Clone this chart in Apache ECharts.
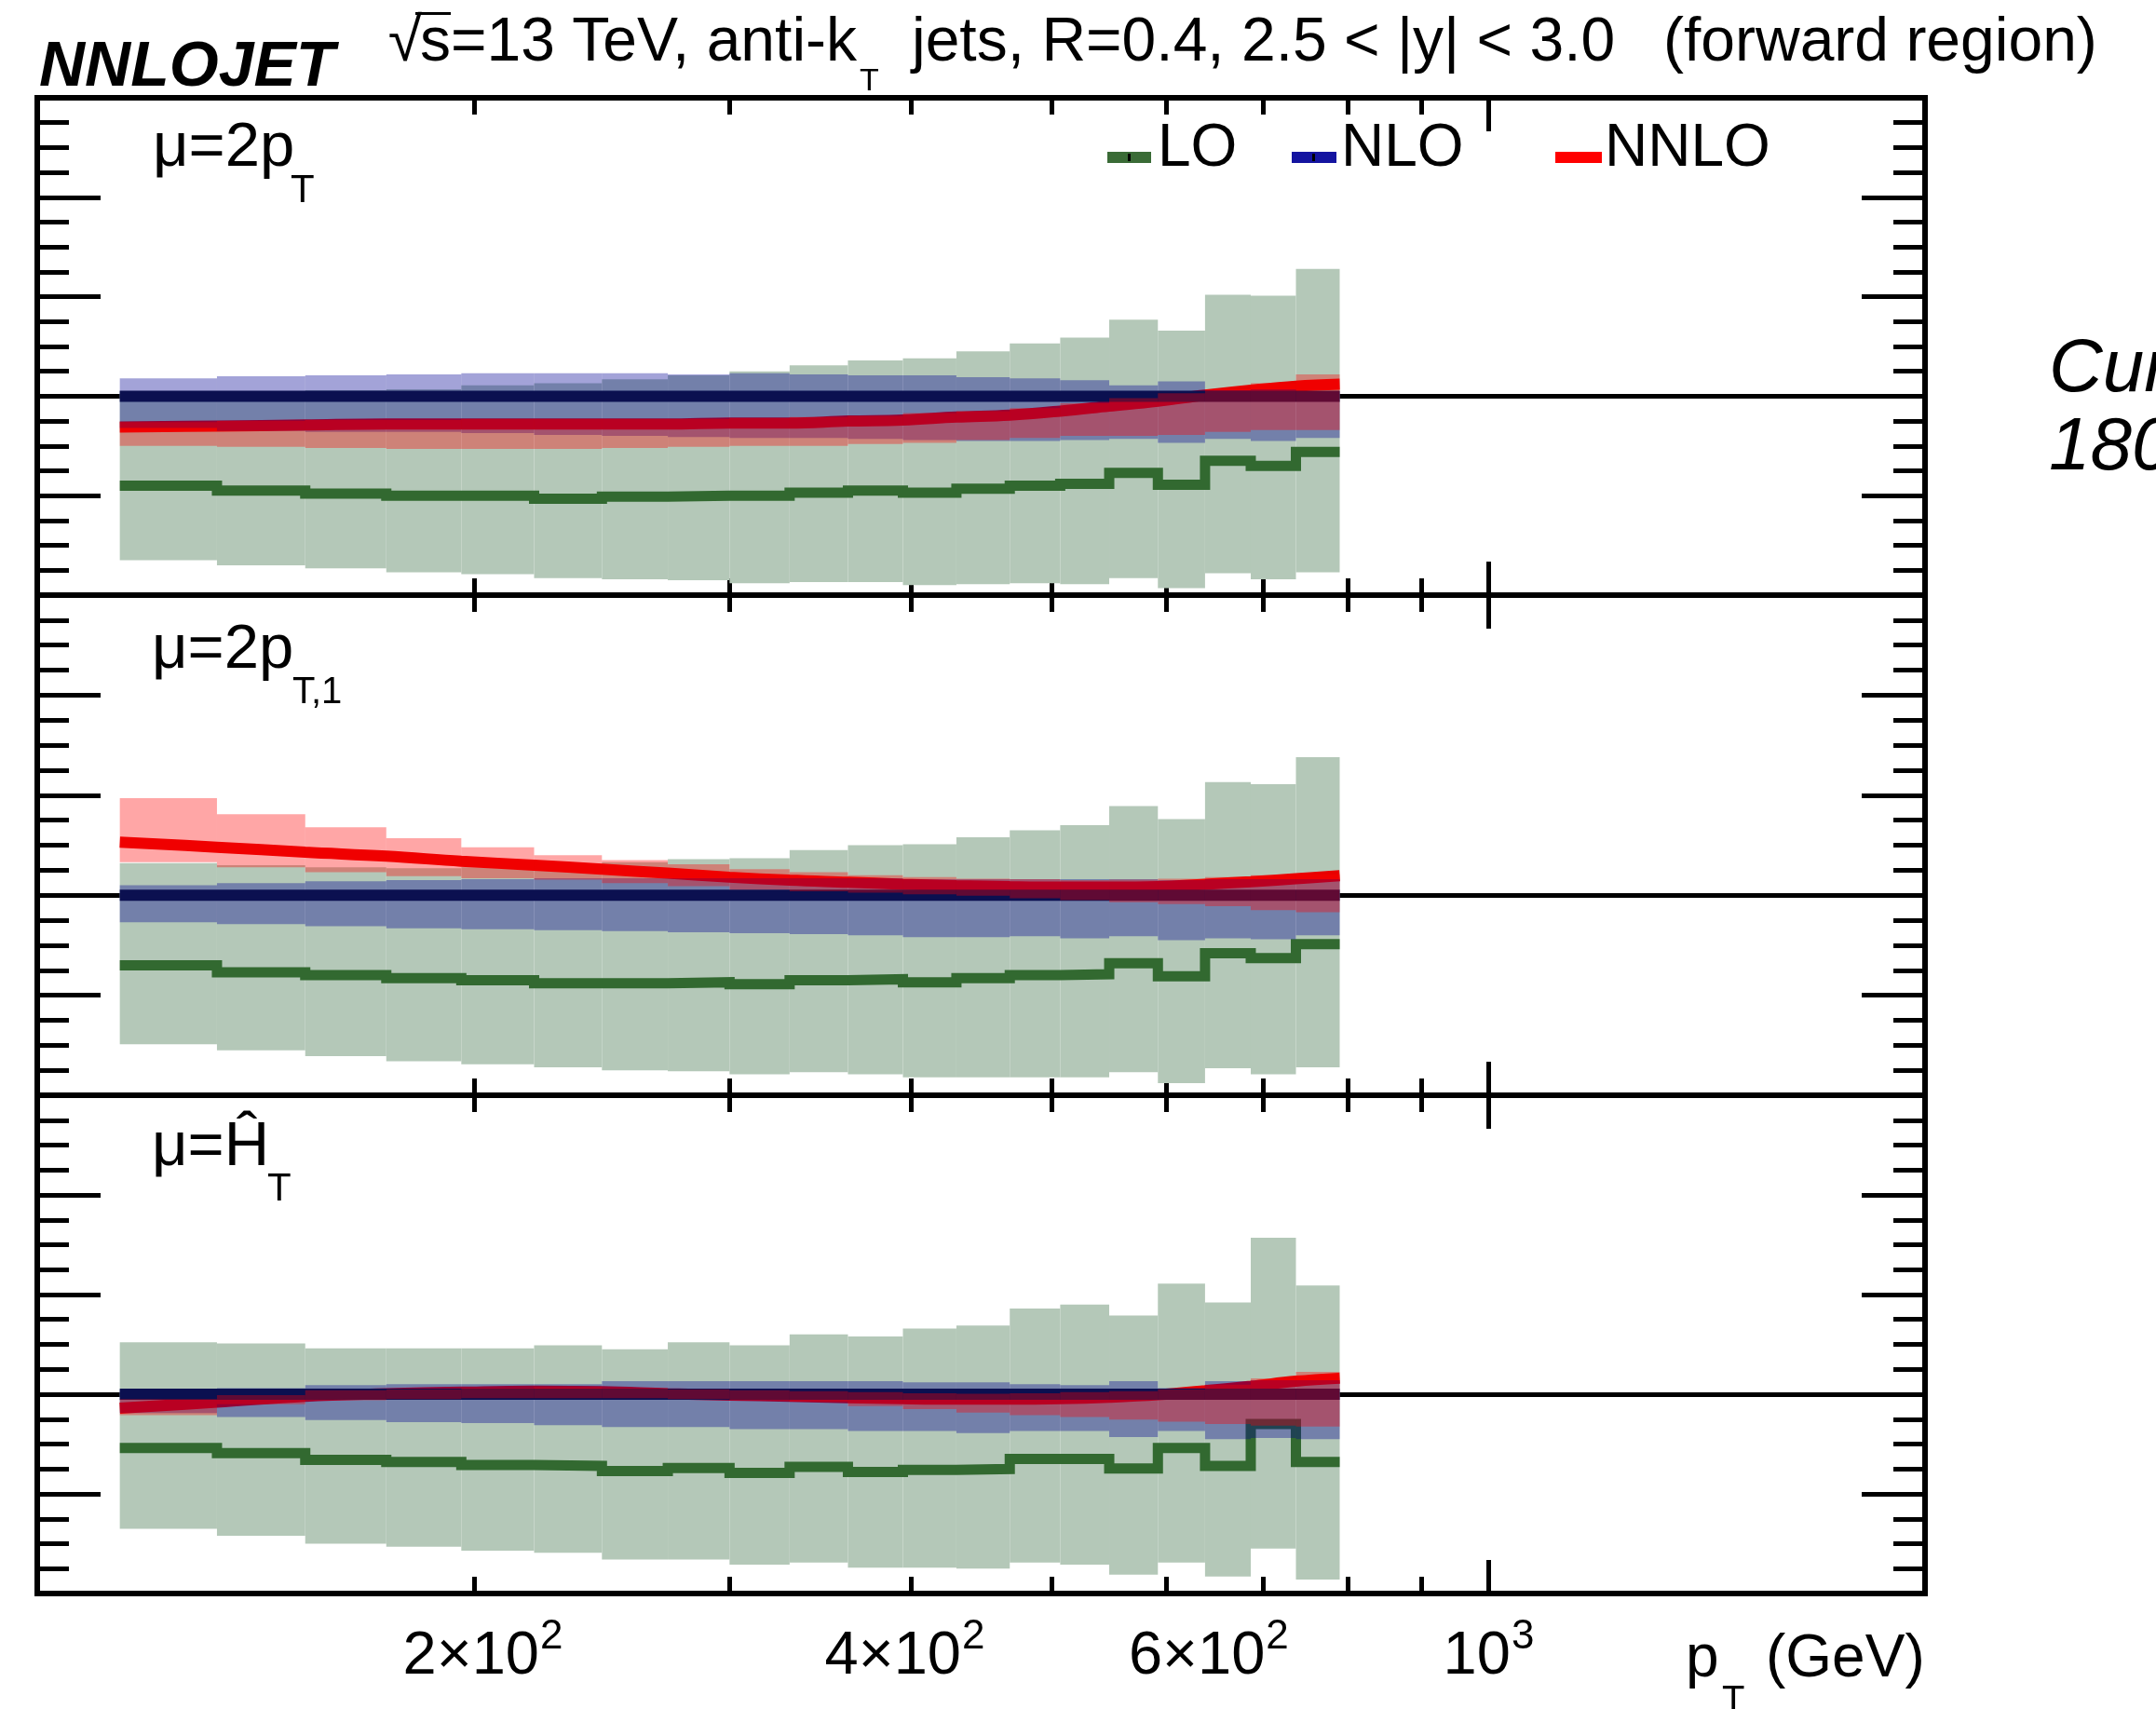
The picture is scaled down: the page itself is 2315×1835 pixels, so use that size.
<!DOCTYPE html>
<html>
<head>
<meta charset="utf-8">
<title>NNLOJET inclusive jets, forward region</title>
<script src="https://cdn.jsdelivr.net/npm/echarts@6.0.0/dist/echarts.min.js"></script>
<style>
  html, body { margin: 0; padding: 0; background: #ffffff; }
  #chart { width: 2315px; height: 1835px; }
</style>
</head>
<body>
<div id="chart"></div>
<script>
// ------------------------------------------------------------------
// Jet pT bins (GeV) and ratios to the NLO central prediction
// ------------------------------------------------------------------
const binEdges = [114, 133, 153, 174, 196, 220, 245, 272, 300, 330, 362,
                  395, 430, 468, 507, 548, 592, 638, 686, 737, 790];

const nloCentral = [1, 1, 1, 1, 1, 1, 1, 1, 1, 1, 1, 1, 1, 1, 1, 1, 1, 1, 1, 1];

// scale choice mu = 2 pT
const lo_2pT       = [0.910, 0.905, 0.902, 0.900, 0.900, 0.897, 0.899, 0.900, 0.900, 0.903,
                      0.905, 0.903, 0.907, 0.910, 0.912, 0.923, 0.911, 0.935, 0.930, 0.944];
const loUp_2pT     = [1.005, 1.005, 1.006, 1.007, 1.011, 1.013, 1.017, 1.021, 1.025, 1.031,
                      1.036, 1.038, 1.045, 1.053, 1.059, 1.077, 1.066, 1.102, 1.101, 1.128];
const loDown_2pT   = [0.835, 0.830, 0.827, 0.823, 0.821, 0.817, 0.816, 0.815, 0.812, 0.813,
                      0.813, 0.810, 0.811, 0.812, 0.811, 0.817, 0.807, 0.822, 0.816, 0.823];
const nloUp_2pT    = [1.018, 1.020, 1.021, 1.022, 1.023, 1.023, 1.023, 1.022, 1.023, 1.022,
                      1.021, 1.021, 1.019, 1.018, 1.016, 1.011, 1.015, 1.006, 1.007, 1.005];
const nloDown_2pT  = [0.968, 0.965, 0.964, 0.964, 0.963, 0.961, 0.960, 0.959, 0.958, 0.958,
                      0.957, 0.956, 0.955, 0.955, 0.956, 0.957, 0.953, 0.957, 0.955, 0.958];
const nnlo_2pT     = [0.969, 0.970, 0.971, 0.972, 0.972, 0.972, 0.972, 0.972, 0.973, 0.973, 0.975,
                      0.976, 0.979, 0.981, 0.985, 0.990, 0.995, 1.001, 1.006, 1.010, 1.012];
const nnloUp_2pT   = [0.974, 0.975, 0.976, 0.976, 0.977, 0.977, 0.977, 0.977, 0.978, 0.979,
                      0.980, 0.983, 0.985, 0.988, 0.993, 0.998, 1.003, 1.007, 1.013, 1.022];
const nnloDown_2pT = [0.950, 0.949, 0.948, 0.947, 0.947, 0.947, 0.948, 0.949, 0.950, 0.950,
                      0.952, 0.953, 0.956, 0.958, 0.960, 0.960, 0.961, 0.964, 0.966, 0.966];

// scale choice mu = 2 pT,1
const lo_2pT1       = [0.930, 0.923, 0.920, 0.917, 0.915, 0.912, 0.912, 0.913, 0.911, 0.915,
                       0.916, 0.913, 0.917, 0.920, 0.921, 0.932, 0.919, 0.942, 0.937, 0.951];
const loUp_2pT1     = [1.032, 1.030, 1.028, 1.027, 1.028, 1.030, 1.033, 1.036, 1.037, 1.045,
                       1.050, 1.051, 1.058, 1.065, 1.070, 1.089, 1.076, 1.113, 1.111, 1.138];
const loDown_2pT1   = [0.851, 0.845, 0.839, 0.834, 0.831, 0.828, 0.825, 0.824, 0.821, 0.823,
                       0.821, 0.818, 0.818, 0.818, 0.818, 0.823, 0.812, 0.827, 0.821, 0.828];
const nloUp_2pT1    = [1.010, 1.012, 1.014, 1.015, 1.016, 1.017, 1.017, 1.017, 1.017, 1.017,
                       1.017, 1.016, 1.016, 1.016, 1.016, 1.016, 1.015, 1.016, 1.016, 1.016];
const nloDown_2pT1  = [0.973, 0.971, 0.969, 0.967, 0.966, 0.965, 0.964, 0.963, 0.962, 0.961,
                       0.960, 0.958, 0.958, 0.959, 0.957, 0.959, 0.955, 0.957, 0.956, 0.960];
const nnlo_2pT1     = [1.053, 1.048, 1.043, 1.039, 1.034, 1.030, 1.026, 1.022, 1.018, 1.015, 1.013,
                       1.011, 1.0095, 1.0085, 1.008, 1.008, 1.0085, 1.011, 1.0135, 1.0165, 1.0195];
const nnloUp_2pT1   = [1.097, 1.081, 1.068, 1.057, 1.048, 1.040, 1.035, 1.031, 1.026, 1.023,
                       1.020, 1.018, 1.0165, 1.016, 1.015, 1.0155, 1.0165, 1.018, 1.020, 1.021];
const nnloDown_2pT1 = [1.033, 1.028, 1.023, 1.019, 1.017, 1.0155, 1.012, 1.009, 1.0055, 1.004,
                       1.0025, 1.001, 0.9995, 0.997, 0.995, 0.993, 0.991, 0.989, 0.985, 0.983];

// scale choice mu = H_T
const lo_HT       = [0.946, 0.941, 0.934, 0.932, 0.929, 0.928, 0.923, 0.926, 0.921, 0.927,
                     0.922, 0.924, 0.925, 0.935, 0.935, 0.9255, 0.946, 0.928, 0.970, 0.932];
const loUp_HT     = [1.052, 1.051, 1.046, 1.046, 1.046, 1.049, 1.045, 1.052, 1.049, 1.060,
                     1.058, 1.066, 1.069, 1.086, 1.090, 1.079, 1.111, 1.092, 1.157, 1.109];
const loDown_HT   = [0.865, 0.858, 0.850, 0.847, 0.843, 0.841, 0.834, 0.834, 0.829, 0.831,
                     0.826, 0.826, 0.825, 0.831, 0.829, 0.819, 0.831, 0.817, 0.845, 0.814];
const nloUp_HT    = [1.004, 1.006, 1.009, 1.010, 1.010, 1.010, 1.013, 1.013, 1.013, 1.013,
                     1.013, 1.012, 1.012, 1.010, 1.009, 1.013, 1.006, 1.013, 1.014, 1.014];
const nloDown_HT  = [0.981, 0.977, 0.974, 0.972, 0.971, 0.969, 0.967, 0.967, 0.965, 0.965,
                     0.963, 0.963, 0.961, 0.963, 0.963, 0.957, 0.963, 0.955, 0.956, 0.955];
const nnlo_HT     = [0.986, 0.992, 0.998, 1.0005, 1.002, 1.003, 1.0025, 1.0005, 0.999, 0.998, 0.9965,
                     0.9955, 0.995, 0.995, 0.9955, 0.997, 0.9995, 1.0035, 1.008, 1.013, 1.016];
const nnloUp_HT   = [0.995, 0.999, 1.004, 1.005, 1.006, 1.007, 1.006, 1.005, 1.004, 1.003,
                     1.002, 1.001, 1.0005, 1.001, 1.002, 1.003, 1.005, 1.0095, 1.016, 1.0225];
const nnloDown_HT = [0.979, 0.990, 0.994, 0.995, 0.996, 0.996, 0.996, 0.995, 0.994, 0.9925,
                     0.988, 0.985, 0.9815, 0.979, 0.977, 0.9745, 0.9725, 0.970, 0.9685, 0.9675];

// axis ticks and labels
const xMinorTicks = [200, 300, 400, 500, 600, 700, 800, 900];
const xMajorTicks = [1000];
const xTickLabels = [
  { value: 200,  mantissa: '2×10', exponent: '2' },
  { value: 400,  mantissa: '4×10', exponent: '2' },
  { value: 600,  mantissa: '6×10', exponent: '2' },
  { value: 1000, mantissa: '10',   exponent: '3' }
];

// ------------------------------------------------------------------
// Layout and style
// ------------------------------------------------------------------
const W = 2315, H = 1835;
const X_MIN = 100, X_MAX = 2000;
const Y_MIN = 0.8, Y_MAX = 1.3, Y_STEP = 0.1;
const PLOT_LEFT = 40, PLOT_RIGHT = 248;
const GRID_BOXES = [
  { top: 105,  height: 534 },
  { top: 639,  height: 537 },
  { top: 1176, height: 535 }
];
const FONT = '"Liberation Sans", Arial, Helvetica, sans-serif';
const COLORS = {
  loBand: '#b4c8b8',
  loLine: '#326930',
  nloBand: 'rgba(0, 0, 147, 0.36)',
  nloLine: '#0b1050',
  nnloBand: 'rgba(255, 0, 0, 0.35)',
  nnloLine: '#e80000'
};
const LINE_WIDTH = { lo: 11, nlo: 12, nnlo: 12 };
const labelNudge = { 200: 9, 400: -7, 600: 45, 1000: 0 };

const panels = [
  { lo: lo_2pT, loUp: loUp_2pT, loDown: loDown_2pT, nloUp: nloUp_2pT, nloDown: nloDown_2pT,
    nnlo: nnlo_2pT, nnloUp: nnloUp_2pT, nnloDown: nnloDown_2pT },
  { lo: lo_2pT1, loUp: loUp_2pT1, loDown: loDown_2pT1, nloUp: nloUp_2pT1, nloDown: nloDown_2pT1,
    nnlo: nnlo_2pT1, nnloUp: nnloUp_2pT1, nnloDown: nnloDown_2pT1 },
  { lo: lo_HT, loUp: loUp_HT, loDown: loDown_HT, nloUp: nloUp_HT, nloDown: nloDown_HT,
    nnlo: nnlo_HT, nnloUp: nnloUp_HT, nnloDown: nnloDown_HT }
];

// ------------------------------------------------------------------
// Series builders
// ------------------------------------------------------------------
function bandSeries(g, name, lower, upper, fill, z) {
  return {
    type: 'custom', name, xAxisIndex: 4 * g, yAxisIndex: 2 * g, z, silent: true, clip: true,
    encode: { x: [0, 1], y: [2, 3] },
    data: lower.map((lo, k) => [binEdges[k], binEdges[k + 1], lo, upper[k]]),
    renderItem(params, api) {
      const a = api.coord([api.value(0), api.value(3)]);
      const b = api.coord([api.value(1), api.value(2)]);
      return {
        type: 'rect',
        shape: { x: a[0], y: a[1], width: b[0] - a[0], height: b[1] - a[1] },
        style: { fill }
      };
    }
  };
}

function stepSeries(g, name, values, color, width, z) {
  // histogram outline: each bin value held until the next edge
  const pts = binEdges.map((e, k) => [e, values[Math.min(k, values.length - 1)]]);
  return {
    type: 'line', name, xAxisIndex: 4 * g, yAxisIndex: 2 * g, z, silent: true,
    step: 'end', data: pts, symbol: 'none', showSymbol: false,
    lineStyle: { color, width, cap: 'butt', join: 'miter' }
  };
}

function curveSeries(g, name, values, color, width, z) {
  return {
    type: 'line', name, xAxisIndex: 4 * g, yAxisIndex: 2 * g, z, silent: true,
    smooth: 0.4, data: binEdges.map((e, k) => [e, values[k]]),
    symbol: 'none', showSymbol: false,
    lineStyle: { color, width, cap: 'butt' }
  };
}

function unityLine(g) {
  return {
    type: 'line', name: 'unity', xAxisIndex: 4 * g, yAxisIndex: 2 * g, z: 1, silent: true,
    data: [], symbol: 'none',
    markLine: {
      z: 1, silent: true, symbol: ['none', 'none'], label: { show: false },
      lineStyle: { color: '#000', width: 5, type: 'solid' },
      emphasis: { disabled: true },
      data: [{ yAxis: 1 }]
    }
  };
}

// ------------------------------------------------------------------
// Grids and axes
// ------------------------------------------------------------------
const grids = [], xAxes = [], yAxes = [], series = [];

GRID_BOXES.forEach((box, g) => {
  grids.push({
    left: PLOT_LEFT, right: PLOT_RIGHT, top: box.top, height: box.height,
    show: true, borderColor: '#000', borderWidth: 6, backgroundColor: 'transparent',
    containLabel: false, outerBoundsMode: 'none'
  });
  [['bottom', xMinorTicks, 18], ['bottom', xMajorTicks, 36],
   ['top', xMinorTicks, 18], ['top', xMajorTicks, 36]].forEach(([pos, vals, len]) => {
    xAxes.push({
      type: 'log', logBase: 10, gridIndex: g, position: pos, min: X_MIN, max: X_MAX,
      axisLine: { show: false }, splitLine: { show: false }, axisLabel: { show: false },
      minorTick: { show: false }, minorSplitLine: { show: false },
      axisTick: { show: true, inside: true, length: len, customValues: vals,
                  lineStyle: { color: '#000', width: 5 } }
    });
  });
  ['left', 'right'].forEach(pos => {
    yAxes.push({
      type: 'value', gridIndex: g, position: pos, min: Y_MIN, max: Y_MAX, interval: Y_STEP,
      axisLine: { show: false }, splitLine: { show: false }, axisLabel: { show: false },
      axisTick: { show: true, inside: true, length: 68, lineStyle: { color: '#000', width: 5 } },
      minorTick: { show: true, splitNumber: 4, length: 34, lineStyle: { color: '#000', width: 5 } },
      minorSplitLine: { show: false }
    });
  });

  const p = panels[g];
  series.push(unityLine(g));
  series.push(bandSeries(g, 'LO', p.loDown, p.loUp, COLORS.loBand, 2));
  series.push(stepSeries(g, 'LO', p.lo, COLORS.loLine, LINE_WIDTH.lo, 3));
  series.push(curveSeries(g, 'NNLO', p.nnlo, COLORS.nnloLine, LINE_WIDTH.nnlo, 4));
  series.push(bandSeries(g, 'NLO', p.nloDown, p.nloUp, COLORS.nloBand, 5));
  series.push(stepSeries(g, 'NLO', nloCentral, COLORS.nloLine, LINE_WIDTH.nlo, 6));
  series.push(bandSeries(g, 'NNLO', p.nnloDown, p.nnloUp, COLORS.nnloBand, 7));
});

const chart = echarts.init(document.getElementById('chart'), null,
  { renderer: 'canvas', width: W, height: H, devicePixelRatio: 1 });

chart.setOption({
  animation: false,
  backgroundColor: '#ffffff',
  textStyle: { fontFamily: FONT },
  tooltip: { show: false },
  grid: grids,
  xAxis: xAxes,
  yAxis: yAxes,
  series
});

// ------------------------------------------------------------------
// Text: title, legend, panel labels, axis labels
// ------------------------------------------------------------------
const measureCtx = document.createElement('canvas').getContext('2d');
function measure(str, size, style, weight) {
  measureCtx.font = `${style || 'normal'} ${weight || 'normal'} ${size}px ${FONT}`;
  return measureCtx.measureText(str).width;
}
// place text by its alphabetic baseline
function text(str, x, baseline, size, opts) {
  opts = opts || {};
  return {
    type: 'text', x, y: baseline - 0.3466 * size, z: 100, silent: true,
    style: {
      text: str, fill: '#000', fontSize: size, fontFamily: FONT,
      fontStyle: opts.style || 'normal', fontWeight: opts.weight || 'normal',
      align: opts.align || 'left', verticalAlign: 'middle'
    }
  };
}
function box(x, y, w, h, fill) {
  return { type: 'rect', z: 100, silent: true, shape: { x, y, width: w, height: h }, style: { fill } };
}

const el = [];

// header
el.push(text('NNLOJET', 42, 97, 68, { style: 'italic', weight: 'bold' }));
const T_SIZE = 66, T_BASE = 70;
el.push(text('√', 453, T_BASE, T_SIZE, { align: 'right' }));
el.push(box(446, 13, 38, 3, '#000'));
const seg1 = 's=13 TeV, anti-k';
el.push(text(seg1, 451, T_BASE, T_SIZE));
el.push(text('T', 451 + measure(seg1, T_SIZE) + 3, 99, 34));
el.push(text('jets, R=0.4, 2.5 < |y| < 3.0', 979, T_BASE, T_SIZE));
el.push(text('(forward region)', 1786, T_BASE, T_SIZE));

// legend
el.push(box(1189, 163, 47, 12, '#3a6b36'));
el.push(box(1211, 165, 3, 8, '#000'));
el.push(text('LO', 1243, 183, 64));
el.push(box(1387, 163, 48, 12, '#1414a0'));
el.push(box(1409, 165, 3, 8, '#000'));
el.push(text('NLO', 1440, 183, 64));
el.push(box(1670, 163, 50, 12, '#ff0000'));
el.push(text('NNLO', 1723, 183, 64));

// panel labels
el.push(text('μ=2p', 164, 183, 67));
el.push(text('T', 312, 220, 42));
el.push(text('μ=2p', 163, 722, 67));
el.push(text('T,1', 314, 758, 40));
el.push(text('μ=Ĥ', 163, 1256, 67));
el.push(text('T', 287, 1292, 42));

// x axis tick labels of the bottom panel
const LBL_SIZE = 65, EXP_SIZE = 44;
xTickLabels.forEach(t => {
  const px = chart.convertToPixel({ xAxisIndex: 8 }, t.value);
  const wm = measure(t.mantissa, LBL_SIZE);
  const we = measure(t.exponent, EXP_SIZE);
  const left = px + (labelNudge[t.value] || 0) - (wm + we) / 2;
  el.push(text(t.mantissa, left, 1802, LBL_SIZE));
  el.push(text(t.exponent, left + wm + 1, 1773, EXP_SIZE));
});

// x axis title
el.push(text('p', 1810, 1805, 64));
el.push(text('T', 1849, 1841, 40));
el.push(text('(GeV)', 1896, 1805, 64));

// side note
el.push(text('Cur', 2200, 425, 80, { style: 'italic' }));
el.push(text('180', 2200, 509, 80, { style: 'italic' }));

chart.setOption({ graphic: { elements: el } });
</script>
</body>
</html>
